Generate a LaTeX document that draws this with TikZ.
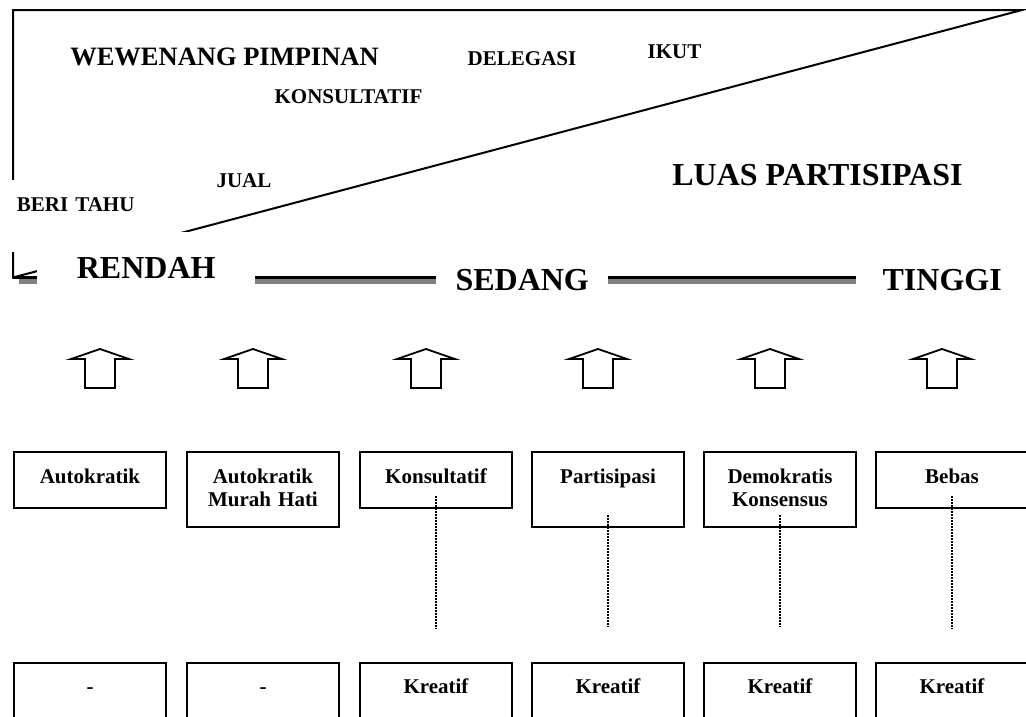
\documentclass[tikz,border=0pt]{standalone}
\usepackage{fontspec}
\setmainfont{Liberation Serif}
\usetikzlibrary{calc}

\begin{document}
\begin{tikzpicture}[x=1pt, y=-1pt,
    garis/.style={line width=2pt},
    teks/.style={anchor=base, inner sep=0pt, font=\fontsize{21}{23}\selectfont\bfseries},
    teksbesar/.style={font=\fontsize{32}{36}\selectfont\bfseries},
    tutup/.style={fill=white, inner sep=0pt, anchor=north west, text width=#1, align=center},
    kotak/.style={draw, line width=2pt, inner sep=0pt, text width=152pt, align=center,
      anchor=north, text height=31pt, font=\fontsize{21}{23.5}\selectfont\bfseries},
    titik/.style={line width=1.5pt, dash pattern=on 1.5pt off 1.5pt}]
    \useasboundingbox (0,0) rectangle (1026,716);
    \clip (0,0) rectangle (1026,716);

    % segitiga partisipasi
    \coordinate (pojokkiri) at (13,10);
    \coordinate (pojokkanan) at (1022,10);
    \coordinate (pojokbawah) at (13,277.5);
    \draw[garis] (pojokbawah) -- (pojokkiri) -- (pojokkanan) -- cycle;

    % garis skala dengan bayangan
    \draw[line width=5pt, gray] (19,281) -- (1030,281);
    \draw[line width=2.5pt] (pojokbawah) -- (1030,277.5);

    \node[tutup=151pt, text height=31pt, text depth=41pt, font=\fontsize{21}{23}\selectfont\bfseries] (beritahu) at (0,180) {BERI TAHU};
    \node[tutup=218pt, text height=46pt, text depth=17pt, teksbesar] (rendah) at (37,232) {RENDAH};
    \node[tutup=172pt, text height=28pt, text depth=12pt, teksbesar] (sedang) at (436,262) {SEDANG};
    \node[tutup=172pt, text height=28pt, text depth=12pt, teksbesar] (tinggi) at (856,262) {TINGGI};

    \node[teks, font=\fontsize{26.5}{30}\selectfont\bfseries] (wewenang) at (224.5,65) {WEWENANG PIMPINAN};
    \node[teks] (delegasi) at (522,65) {DELEGASI};
    \node[teks] (ikut) at (674.5,58) {IKUT};
    \node[teks] (konsul) at (348.5,103) {KONSULTATIF};
    \node[teks] (jual) at (244,187) {JUAL};
    \node[teks, teksbesar] (luas) at (817.5,185) {LUAS PARTISIPASI};

    % panah ke atas
    \foreach \cx in {100,253,426,598,770,942}
      \draw[line width=1.8pt] ({\cx-15},388) -- ({\cx-15},359) -- ({\cx-29},359) -- (\cx,349)
        -- ({\cx+29},359) -- ({\cx+15},359) -- ({\cx+15},388) -- cycle;

    % gaya kepemimpinan
    \node[kotak, text depth=25pt] (autokratik) at (90,451) {Autokratik};
    \node[kotak, text depth=44pt] (murahhati) at (263,451) {Autokratik\\Murah Hati};
    \node[kotak, text depth=25pt] (konsultatif) at (436,451) {Konsultatif};
    \node[kotak, text depth=44pt] (partisipasi) at (608,451) {Partisipasi};
    \node[kotak, text depth=44pt] (demokratis) at (780,451) {Demokratis\\Konsensus};
    \node[kotak, text depth=25pt] (bebas) at (952,451) {Bebas};

    % hasil
    \node[kotak, text height=30pt, text depth=50pt] (hasil1) at (90,662) {-};
    \node[kotak, text height=30pt, text depth=50pt] (hasil2) at (263,662) {-};
    \node[kotak, text height=30pt, text depth=50pt] (hasil3) at (436,662) {Kreatif};
    \node[kotak, text height=30pt, text depth=50pt] (hasil4) at (608,662) {Kreatif};
    \node[kotak, text height=30pt, text depth=50pt] (hasil5) at (780,662) {Kreatif};
    \node[kotak, text height=30pt, text depth=50pt] (hasil6) at (952,662) {Kreatif};

    \draw[titik] ([yshift=13pt]konsultatif.south) -- ([yshift=33pt]hasil3.north);
    \draw[titik] ([yshift=13pt]partisipasi.south) -- ([yshift=35pt]hasil4.north);
    \draw[titik] ([yshift=13pt]demokratis.south) -- ([yshift=35pt]hasil5.north);
    \draw[titik] ([yshift=13pt]bebas.south) -- ([yshift=33pt]hasil6.north);
  \end{tikzpicture}
\end{document}
